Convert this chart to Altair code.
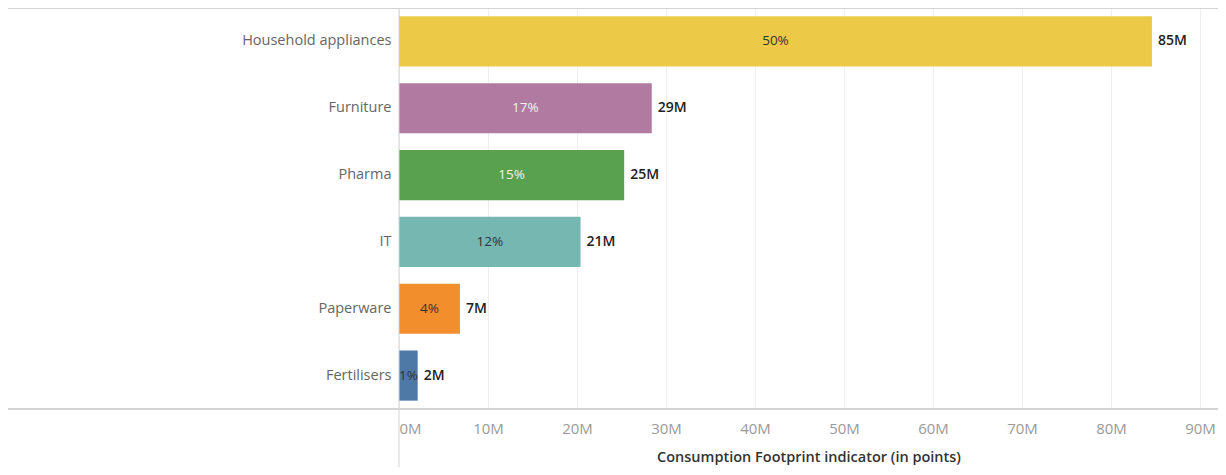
import altair as alt
import pandas as pd

categories = ["Household appliances", "Furniture", "Pharma", "IT", "Paperware", "Fertilisers"]
values = [84.6e6, 28.4e6, 25.3e6, 20.4e6, 6.85e6, 2.1e6]
pct_labels = ["50%", "17%", "15%", "12%", "4%", "1%"]
value_labels = ["85M", "29M", "25M", "21M", "7M", "2M"]
bar_colors = ["#EDC948", "#B07AA1", "#59A14F", "#76B7B2", "#F28E2B", "#4E79A7"]
pct_colors = ["#333333", "#F2F2F2", "#F2F2F2", "#333333", "#333333", "#333333"]
tick_values = [0, 10e6, 20e6, 30e6, 40e6, 50e6, 60e6, 70e6, 80e6, 90e6]

df = pd.DataFrame({
    "cat": categories,
    "val": values,
    "pct": pct_labels,
    "vlab": value_labels,
    "pcol": pct_colors,
})

W = 819
H = 401
LEFT = 391
FONT = "Open Sans"

x_scale = alt.Scale(domain=[0, W / 8.9 * 1e6], nice=False, zero=True)
y_enc = alt.Y("cat:N", sort=categories, title=None,
              scale=alt.Scale(paddingInner=0.25, paddingOuter=0.125),
              axis=alt.Axis(labelFont=FONT, labelFontSize=14.5, labelColor="#666666",
                            labelPadding=8, ticks=False, domain=False, grid=False))

base = alt.Chart(df)

bars = base.mark_bar().encode(
    x=alt.X("val:Q", scale=x_scale, title="Consumption Footprint indicator (in points)",
            axis=alt.Axis(values=tick_values, labelExpr="datum.value / 1000000 + 'M'",
                          labelFont=FONT, labelFontSize=15, labelColor="#9A9A9A",
                          labelPadding=12, ticks=False, domain=False,
                          grid=True, gridColor="#EEEEEE", gridWidth=1,
                          titleFont=FONT, titleFontSize=14.5, titleFontWeight=600,
                          titleColor="#333333", titlePadding=14)),
    y=y_enc,
    color=alt.Color("cat:N", scale=alt.Scale(domain=categories, range=bar_colors), legend=None),
)

pct_text = base.mark_text(font=FONT, fontSize=13.5, align="center", baseline="middle").encode(
    x=alt.X("mid:Q", scale=x_scale),
    y=alt.Y("cat:N", sort=categories),
    text="pct:N",
    color=alt.Color("pcol:N", scale=None),
).transform_calculate(mid="datum.val / 2")

val_text = base.mark_text(font=FONT, fontSize=14, fontWeight=600, align="left",
                          baseline="middle", dx=6, color="#222222").encode(
    x=alt.X("val:Q", scale=x_scale),
    y=alt.Y("cat:N", sort=categories),
    text="vlab:N",
)

one = alt.Chart(pd.DataFrame({"a": [0]}))
top_line = one.mark_rule(color="#D4D4D4", strokeWidth=1).encode(
    x=alt.value(-LEFT), x2=alt.value(W), y=alt.value(0.5))
axis_line = one.mark_rule(color="#D4D4D4", strokeWidth=2).encode(
    x=alt.value(-LEFT), x2=alt.value(W), y=alt.value(H))
v_line = one.mark_rule(color="#D4D4D4", strokeWidth=1).encode(
    x=alt.value(0), y=alt.value(0), y2=alt.value(470))

chart = alt.layer(bars, pct_text, val_text, top_line, axis_line, v_line).properties(
    width=W, height=H,
    autosize=alt.AutoSizeParams(type="none"),
    padding={"left": LEFT, "top": 0, "right": 0, "bottom": 58},
).configure_view(stroke=None).configure(background="white")

chart.save("out.html", embed_options={"renderer": "svg", "actions": False})
